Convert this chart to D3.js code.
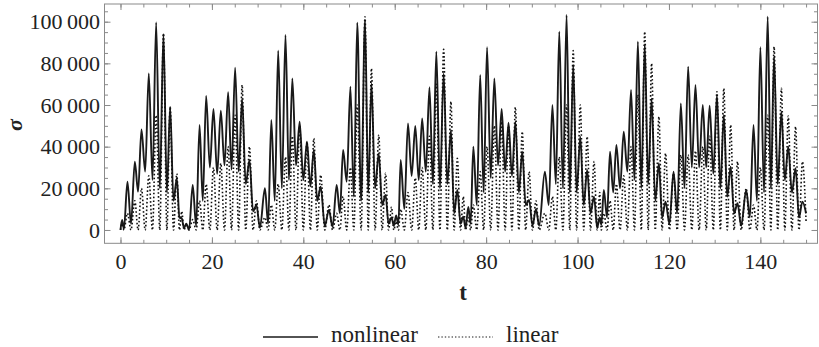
<!DOCTYPE html>
<html>
<head>
<meta charset="utf-8">
<script src="https://cdn.jsdelivr.net/npm/d3@7"></script>
<style>
  body { margin: 0; background: #fff; }
</style>
</head>
<body>
<svg id="chart" width="819" height="347"></svg>
<script>
// extrema of the two responses (t, sigma)
const time = [
  0, 0.35, 0.75, 1.52, 2.3, 3.13, 3.85, 4.59, 5.4, 6.19, 7.0, 7.8, 8.6, 9.4, 10.15, 10.86, 11.6, 12.32, 12.9, 13.4,
  13.9, 14.4, 15.0, 15.8, 16.55, 17.3, 18.0, 18.74, 19.55, 20.34, 21.15, 21.95, 22.75, 23.55, 24.3, 25.08, 25.85, 26.61, 27.4, 28.22,
  29.0, 29.75, 30.5, 31.6, 32.3, 33.0, 33.75, 34.5, 35.3, 36.1, 36.85, 37.6, 38.4, 39.2, 40.0, 40.8, 41.55, 42.3, 43.05, 43.8,
  44.7, 45.6, 46.4, 47.3, 48.0, 48.7, 49.5, 50.3, 51.05, 51.8, 52.65, 53.5, 54.2, 54.9, 55.7, 56.5, 57.25, 58.0, 58.65, 59.3,
  59.8, 60.3, 60.8, 61.3, 62.1, 62.9, 63.7, 64.5, 65.25, 66.0, 66.8, 67.6, 68.35, 69.1, 69.9, 70.7, 71.5, 72.3, 73.0, 73.7,
  74.4, 75.0, 75.5, 76.1, 76.6, 77.2, 77.95, 78.7, 79.45, 80.2, 81.0, 81.8, 82.6, 83.4, 84.15, 84.9, 85.65, 86.4, 87.15, 87.9,
  88.65, 89.4, 90.15, 90.9, 91.6, 92.85, 93.7, 94.5, 95.25, 96.0, 96.8, 97.6, 98.3, 99.05, 99.8, 100.6, 101.35, 102.1, 102.85, 103.6,
  104.3, 104.85, 105.2, 105.75, 106.45, 107.1, 107.8, 108.5, 109.3, 110.1, 110.9, 111.7, 112.45, 113.2, 113.95, 114.7, 115.45, 116.2, 117.0, 117.8,
  118.5, 119.25, 120.1, 121.0, 121.8, 122.6, 123.4, 124.2, 125.0, 125.8, 126.6, 127.4, 128.15, 128.9, 129.7, 130.5, 131.25, 132.0, 132.75, 133.5,
  134.25, 135.0, 135.8, 136.9, 137.7, 138.5, 139.25, 140.0, 140.8, 141.6, 142.3, 143.0, 143.8, 144.6, 145.35, 146.1, 146.9, 147.7, 148.45, 149.2,
  150.0
];
const nonlinear = [
  0, 4800, 500, 23200, 3000, 32800, 18400, 48300, 28000, 75200, 24000, 99700, 20000, 94000, 18000, 59200, 14000, 24800, 6000, 5500,
  1000, 3000, 0, 21600, 2000, 50400, 14000, 64300, 30000, 58100, 27000, 57300, 31000, 66100, 29000, 77900, 28000, 63000, 22000, 33600,
  9000, 12000, 1000, 20000, 3000, 52800, 14000, 86100, 20000, 93600, 24000, 72800, 31000, 52000, 24000, 42400, 21000, 38400, 14000, 20800,
  2000, 9600, 1500, 21600, 8000, 38400, 23200, 68800, 16000, 99500, 14000, 100800, 18000, 70400, 20000, 36800, 12000, 16800, 3000, 6000,
  2000, 7000, 2500, 33600, 10000, 51200, 26000, 49900, 24000, 53600, 28000, 68500, 22000, 85600, 20000, 75200, 22000, 48000, 8000, 19200,
  3000, 6400, 1000, 11000, 3000, 40000, 12000, 74400, 18000, 87700, 25000, 72800, 31000, 58100, 28000, 51500, 26000, 52000, 18000, 37600,
  12000, 14400, 2000, 10000, 2000, 28000, 12000, 60000, 22000, 95200, 20000, 103200, 18000, 79200, 18000, 44800, 12000, 28800, 8000, 16000,
  1000, 6000, 2500, 19200, 6000, 37600, 18000, 40800, 20000, 47200, 28000, 67200, 24000, 90400, 20000, 89000, 22000, 63200, 14000, 32000,
  6000, 13600, 3000, 28000, 8000, 60800, 20000, 78400, 30000, 69600, 30000, 60000, 30000, 59700, 27000, 64800, 20000, 55200, 16000, 30400,
  8000, 12800, 2000, 19200, 6000, 50400, 14000, 87700, 18000, 102400, 20000, 83200, 22000, 56800, 24000, 40000, 18000, 29600, 6000, 13600,
  8000
];
const linear = [
  0, 3000, 0, 8000, 0, 14000, 0, 20000, 0, 26000, 0, 55000, 0, 94400, 0, 59000, 0, 27000, 0, 9000,
  0, 3000, 0, 5000, 0, 14000, 0, 22000, 0, 30000, 0, 32000, 0, 40000, 0, 55000, 0, 69600, 0, 40000,
  0, 14000, 0, 6000, 0, 12000, 0, 22000, 0, 35000, 0, 45000, 0, 50000, 0, 42400, 0, 44000, 0, 26400,
  0, 12000, 0, 8000, 0, 16000, 0, 30000, 0, 60000, 0, 102400, 0, 77600, 0, 45600, 0, 27200, 0, 11000,
  0, 4000, 0, 10000, 0, 18000, 0, 25000, 0, 30000, 0, 45000, 0, 70000, 0, 86700, 0, 61600, 0, 34400,
  0, 16000, 0, 6000, 0, 12000, 0, 28000, 0, 40000, 0, 50000, 0, 52000, 0, 50000, 0, 58900, 0, 47200,
  0, 28000, 0, 14000, 0, 8000, 0, 16000, 0, 35000, 0, 60000, 0, 86100, 0, 60000, 0, 44800, 0, 32800,
  0, 18000, 0, 8000, 0, 14000, 0, 22000, 0, 26000, 0, 40000, 0, 65000, 0, 95200, 0, 80000, 0, 54400,
  0, 36800, 0, 27200, 0, 36000, 0, 36000, 0, 38000, 0, 40000, 0, 45000, 0, 66400, 0, 68000, 0, 50400,
  0, 32800, 0, 20000, 0, 12000, 0, 30000, 0, 55000, 0, 88000, 0, 68000, 0, 54700, 0, 49600, 0, 32800,
  4000
];
const xTicks = [0, 20, 40, 60, 80, 100, 120, 140];
const yTicks = [0, 20000, 40000, 60000, 80000, 100000];
const seriesNames = ["nonlinear", "linear"];

const serif = "\"Liberation Serif\", \"Times New Roman\", Times, serif";

const svg = d3.select("#chart");
const plotLeft = 104.5, plotRight = 817.5, plotTop = 4, plotBottom = 243.3;

const x = d3.scaleLinear().domain([-3.5, 152.5]).range([plotLeft, plotRight]);
const y = d3.scaleLinear().domain([-6400, 108500]).range([plotBottom, plotTop]);

const fmt = d3.formatLocale({decimal: ".", thousands: "\u2009", grouping: [3], currency: ["", ""]}).format(",");
const minorX = d3.range(0, 151, 5);
const minorY = d3.range(0, 106000, 5000);

// frame
svg.append("rect")
  .attr("x", plotLeft).attr("y", plotTop)
  .attr("width", plotRight - plotLeft).attr("height", plotBottom - plotTop)
  .attr("fill", "none").attr("stroke", "#8a8a8a").attr("stroke-width", 1);

function styleAxis(g) {
  g.attr("font-family", null).attr("font-size", null);
  g.select(".domain").remove();
  g.selectAll(".tick line").attr("stroke", "#8a8a8a");
  g.selectAll(".tick text")
    .attr("fill", "#222")
    .style("font-family", serif)
    .style("font-size", "22px");
}

// bottom / top
svg.append("g").attr("transform", `translate(0,${plotBottom})`)
  .call(d3.axisBottom(x).tickValues(minorX).tickFormat("").tickSize(-3.5)).call(styleAxis);
svg.append("g").attr("transform", `translate(0,${plotBottom})`)
  .call(d3.axisBottom(x).tickValues(xTicks).tickSize(-6).tickPadding(10)).call(styleAxis);
svg.append("g").attr("transform", `translate(0,${plotTop})`)
  .call(d3.axisTop(x).tickValues(minorX).tickFormat("").tickSize(-3.5)).call(styleAxis);
svg.append("g").attr("transform", `translate(0,${plotTop})`)
  .call(d3.axisTop(x).tickValues(xTicks).tickFormat("").tickSize(-6)).call(styleAxis);

// left / right
svg.append("g").attr("transform", `translate(${plotLeft},0)`)
  .call(d3.axisLeft(y).tickValues(minorY).tickFormat("").tickSize(-3.5)).call(styleAxis);
svg.append("g").attr("transform", `translate(${plotLeft},0)`)
  .call(d3.axisLeft(y).tickValues(yTicks).tickFormat(fmt).tickSize(-6).tickPadding(4.5)).call(styleAxis);
svg.append("g").attr("transform", `translate(${plotRight},0)`)
  .call(d3.axisRight(y).tickValues(minorY).tickFormat("").tickSize(-3.5)).call(styleAxis);
svg.append("g").attr("transform", `translate(${plotRight},0)`)
  .call(d3.axisRight(y).tickValues(yTicks).tickFormat("").tickSize(-6)).call(styleAxis);

// data
svg.append("clipPath").attr("id", "clip")
  .append("rect").attr("x", plotLeft).attr("y", plotTop)
  .attr("width", plotRight - plotLeft).attr("height", plotBottom - plotTop);

const nlData = time.map((t, i) => ({t, v: nonlinear[i]}));
const linData = time.map((t, i) => ({t, v: linear[i]}));

const line = d3.line()
  .x(d => x(d.t))
  .y(d => y(d.v))
  .curve(d3.curveMonotoneX);

const plot = svg.append("g").attr("clip-path", "url(#clip)");
plot.append("path")
  .datum(nlData)
  .attr("d", line)
  .attr("fill", "none")
  .attr("stroke", "#1a1a1a")
  .attr("stroke-width", 1.9);
plot.append("path")
  .datum(linData)
  .attr("d", line)
  .attr("fill", "none")
  .attr("stroke", "#111")
  .attr("stroke-width", 1.6)
  .attr("stroke-dasharray", "1.6,2.2");

// axis titles
svg.append("text")
  .attr("transform", "translate(14,125) rotate(-90)")
  .attr("text-anchor", "middle")
  .attr("dy", "0.35em")
  .attr("fill", "#222")
  .style("font-family", serif)
  .style("font-size", "22px").style("font-weight", "bold").style("font-style", "italic")
  .text("σ");
svg.append("text")
  .attr("x", 463).attr("y", 300)
  .attr("text-anchor", "middle")
  .attr("fill", "#222")
  .style("font-family", serif)
  .style("font-size", "23px").style("font-weight", "bold")
  .text("t");

// legend
const legend = svg.append("g");
const legendItems = [
  {name: seriesNames[0], x0: 263, dash: null, w: 1.6},
  {name: seriesNames[1], x0: 438, dash: "1.4,2", w: 1.2}
];
legendItems.forEach(it => {
  legend.append("line")
    .attr("x1", it.x0).attr("x2", it.x0 + 55)
    .attr("y1", 337).attr("y2", 337)
    .attr("stroke", "#1a1a1a").attr("stroke-width", it.w)
    .attr("stroke-dasharray", it.dash);
  legend.append("text")
    .attr("x", it.x0 + 68).attr("y", 342)
    .attr("fill", "#222")
    .style("font-family", serif)
    .style("font-size", "23px")
    .text(it.name);
});
</script>
</body>
</html>
